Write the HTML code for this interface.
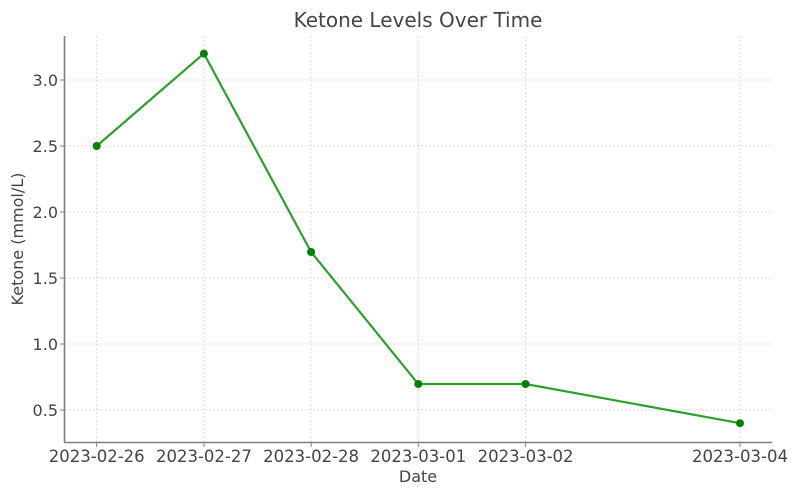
<!DOCTYPE html>
<html>
<head>
<meta charset="utf-8">
<style>
  html, body { margin: 0; padding: 0; background: #fff; }
  svg { display: block; }
  text { font-family: "DejaVu Sans", "Liberation Sans", sans-serif; fill: #444; }
</style>
</head>
<body>
<svg width="800" height="497" viewBox="0 0 800 497" xmlns="http://www.w3.org/2000/svg">
  <rect width="800" height="497" fill="#fff"/>
  <!-- grid -->
  <g stroke="#dcdcdc" stroke-width="1" stroke-dasharray="2,2">
    <line x1="96.7" y1="36" x2="96.7" y2="442"/>
    <line x1="203.9" y1="36" x2="203.9" y2="442"/>
    <line x1="311.1" y1="36" x2="311.1" y2="442"/>
    <line x1="418.3" y1="36" x2="418.3" y2="442"/>
    <line x1="525.6" y1="36" x2="525.6" y2="442"/>
    <line x1="740" y1="36" x2="740" y2="442"/>
    <line x1="65" y1="80" x2="772" y2="80"/>
    <line x1="65" y1="146" x2="772" y2="146"/>
    <line x1="65" y1="212" x2="772" y2="212"/>
    <line x1="65" y1="278" x2="772" y2="278"/>
    <line x1="65" y1="344" x2="772" y2="344"/>
    <line x1="65" y1="410" x2="772" y2="410"/>
  </g>
  <!-- spines -->
  <g stroke="#7f7f7f" stroke-width="1.6">
    <line x1="64.5" y1="36" x2="64.5" y2="442.5"/>
    <line x1="64" y1="442.5" x2="772" y2="442.5"/>
  </g>
  <!-- ticks -->
  <g stroke="#7f7f7f" stroke-width="1">
    <line x1="60" y1="80" x2="64" y2="80"/>
    <line x1="60" y1="146" x2="64" y2="146"/>
    <line x1="60" y1="212" x2="64" y2="212"/>
    <line x1="60" y1="278" x2="64" y2="278"/>
    <line x1="60" y1="344" x2="64" y2="344"/>
    <line x1="60" y1="410" x2="64" y2="410"/>
    <line x1="96.7" y1="443" x2="96.7" y2="447"/>
    <line x1="203.9" y1="443" x2="203.9" y2="447"/>
    <line x1="311.1" y1="443" x2="311.1" y2="447"/>
    <line x1="418.3" y1="443" x2="418.3" y2="447"/>
    <line x1="525.6" y1="443" x2="525.6" y2="447"/>
    <line x1="740" y1="443" x2="740" y2="447"/>
  </g>
  <!-- y tick labels -->
  <g font-size="16" text-anchor="end">
    <text x="58" y="86">3.0</text>
    <text x="58" y="152">2.5</text>
    <text x="58" y="218">2.0</text>
    <text x="58" y="284">1.5</text>
    <text x="58" y="350">1.0</text>
    <text x="58" y="416">0.5</text>
  </g>
  <!-- x tick labels -->
  <g font-size="16.5" text-anchor="middle">
    <text x="96.7" y="462">2023-02-26</text>
    <text x="203.9" y="462">2023-02-27</text>
    <text x="311.1" y="462">2023-02-28</text>
    <text x="418.3" y="462">2023-03-01</text>
    <text x="525.6" y="462">2023-03-02</text>
    <text x="740" y="462">2023-03-04</text>
  </g>
  <!-- axis labels -->
  <text x="418" y="482" font-size="16" text-anchor="middle">Date</text>
  <text x="0" y="0" font-size="16" text-anchor="middle" transform="translate(23,239) rotate(-90)">Ketone (mmol/L)</text>
  <!-- title -->
  <text x="418" y="27" font-size="20" text-anchor="middle" fill="#333">Ketone Levels Over Time</text>
  <!-- series -->
  <polyline fill="none" stroke="#2ca02c" stroke-width="2.2" stroke-linejoin="round"
    points="96.7,146 203.9,53.6 311.1,252 418.3,384 525.6,384 740,423.2"/>
  <g fill="#008000">
    <circle cx="96.7" cy="146" r="4"/>
    <circle cx="203.9" cy="53.6" r="4"/>
    <circle cx="311.1" cy="252" r="4"/>
    <circle cx="418.3" cy="384" r="4"/>
    <circle cx="525.6" cy="384" r="4"/>
    <circle cx="740" cy="423.2" r="4"/>
  </g>
</svg>
</body>
</html>
